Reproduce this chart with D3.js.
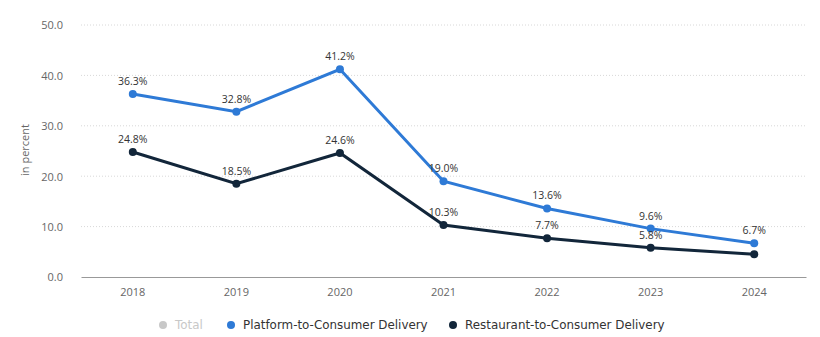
<!DOCTYPE html>
<html>
<head>
<meta charset="utf-8">
<script src="https://cdn.jsdelivr.net/npm/d3@7"></script>
<style>
  body { margin: 0; background: #fff; }
  text { font-family: "Open Sans", "DejaVu Sans", sans-serif; }
</style>
</head>
<body>
<script>
//chart data
var years = ["2018", "2019", "2020", "2021", "2022", "2023", "2024"];
var platform = [36.3, 32.8, 41.2, 19.0, 13.6, 9.6, 6.7];
var restaurant = [24.8, 18.5, 24.6, 10.3, 7.7, 5.8, 4.5];
var yTicks = [0, 10, 20, 30, 40, 50];
var legendItems = ["Total", "Platform-to-Consumer Delivery", "Restaurant-to-Consumer Delivery"];

//frame dimensions
var width = 820,
    height = 337;

var svg = d3.select("body")
    .append("svg")
    .attr("width", width)
    .attr("height", height);

var x = d3.scaleBand()
    .domain(years)
    .range([81, 806]);

var y = d3.scaleLinear()
    .domain([0, 50])
    .range([277, 25]);

//grid lines
svg.selectAll(".grid")
    .data(yTicks.filter(function(d){ return d > 0; }))
    .enter()
    .append("line")
    .attr("x1", 81)
    .attr("x2", 806)
    .attr("y1", function(d){ return y(d); })
    .attr("y2", function(d){ return y(d); })
    .attr("stroke", "#d8d8d8")
    .attr("stroke-width", 1)
    .attr("stroke-dasharray", "1,2");

//y axis labels
var yAxis = svg.append("g")
    .attr("transform", "translate(66,0)")
    .call(d3.axisLeft(y).tickValues(yTicks).tickFormat(d3.format(".1f")).tickSize(0));
yAxis.select(".domain").remove();
yAxis.selectAll("text")
    .attr("fill", "#666")
    .attr("font-size", "11px")
    .attr("dy", "0.35em");

//x axis
var xAxis = svg.append("g")
    .attr("transform", "translate(0,277)")
    .call(d3.axisBottom(x).tickSize(0).tickPadding(11));
xAxis.select(".domain").attr("stroke", "#999");
xAxis.selectAll("text")
    .attr("fill", "#666")
    .attr("font-size", "11px");

//axis title
svg.append("text")
    .attr("transform", "translate(29,150) rotate(-90)")
    .attr("text-anchor", "middle")
    .attr("font-size", "11px")
    .attr("fill", "#666")
    .text("in percent");

var series = [
    { name: legendItems[1], values: platform, color: "#2e7ad6" },
    { name: legendItems[2], values: restaurant, color: "#12263a" }
];

var line = d3.line()
    .x(function(d, i){ return x(years[i]) + x.bandwidth() / 2; })
    .y(function(d){ return y(d); });

series.forEach(function(s, si){
    svg.append("path")
        .datum(s.values)
        .attr("fill", "none")
        .attr("stroke", s.color)
        .attr("stroke-width", 3)
        .attr("d", line);

    svg.selectAll(".dot" + si)
        .data(s.values)
        .enter()
        .append("circle")
        .attr("cx", function(d, i){ return x(years[i]) + x.bandwidth() / 2; })
        .attr("cy", function(d){ return y(d); })
        .attr("r", 4)
        .attr("fill", s.color);

    //value labels (last restaurant label hidden by overlap in the original)
    svg.selectAll(".lbl" + si)
        .data(s.values.filter(function(d, i){ return !(si === 1 && i === s.values.length - 1); }))
        .enter()
        .append("text")
        .attr("x", function(d, i){ return x(years[i]) + x.bandwidth() / 2; })
        .attr("y", function(d){ return y(d) - 9; })
        .attr("text-anchor", "middle")
        .attr("font-size", "10.5px")
        .attr("fill", "#333")
        .text(function(d){ return d.toFixed(1) + "%"; });
});

//legend
var legendX = [163, 231, 453],
    legendColors = ["#c8c8c8", "#2e7ad6", "#12263a"];

var legend = svg.selectAll(".legend")
    .data(legendItems)
    .enter()
    .append("g")
    .attr("transform", function(d, i){ return "translate(" + legendX[i] + ",325)"; });

legend.append("circle")
    .attr("r", 4)
    .attr("fill", function(d, i){ return legendColors[i]; });

legend.append("text")
    .attr("x", 12)
    .attr("dy", "0.35em")
    .attr("font-size", "11.9px")
    .style("font-family", "'DejaVu Sans', sans-serif")
    .attr("fill", function(d, i){ return i === 0 ? "#c8c8c8" : "#333"; })
    .text(function(d){ return d; });
</script>
</body>
</html>
